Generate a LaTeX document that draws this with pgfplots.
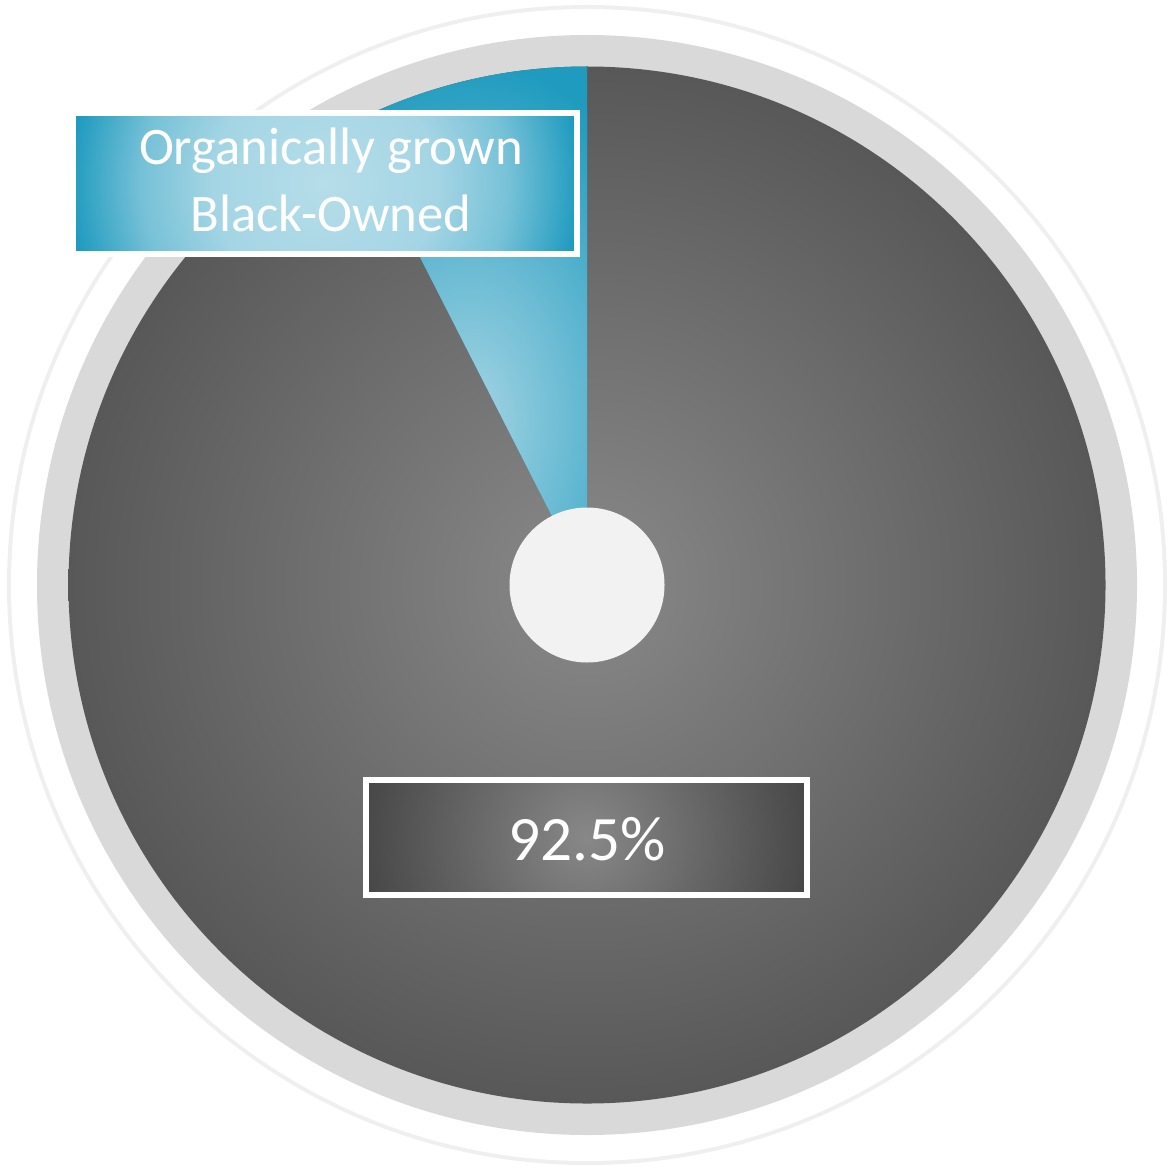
\documentclass[border=0pt]{standalone}
\usepackage{pgfplots}
\pgfplotsset{compat=1.18}
\usepackage{pgfplotstable}
\usepackage{fontspec}
\setmainfont{Carlito}

\definecolor{ringgray}{HTML}{D9D9D9}
\definecolor{rimgray}{HTML}{E4E4E4}
\definecolor{piedark}{HTML}{585858}
\definecolor{pielight}{HTML}{898989}
\definecolor{sliceblue}{HTML}{1F9BBF}
\definecolor{slicelight}{HTML}{A4D4E3}
\definecolor{boxlight}{HTML}{B6DDE9}
\definecolor{boxdark}{HTML}{484848}
\definecolor{boxmid}{HTML}{888888}
\definecolor{holegray}{HTML}{F2F2F2}

\pgfdeclareradialshading{bluebox}{\pgfpointorigin}{%
  color(0bp)=(boxlight);
  color(11bp)=(boxlight!88!sliceblue);
  color(18bp)=(boxlight!58!sliceblue);
  color(25bp)=(sliceblue);
  color(50bp)=(sliceblue)}

% share of each group (percent)
\pgfplotstableread[col sep=comma]{
group,value
Organically grown Black-Owned,7.5
Other,92.5
}\piedata

\begin{document}
\begin{tikzpicture}
\pgfplotstablegetelem{0}{value}\of\piedata
\pgfmathsetmacro\va{\pgfplotsretval}
\pgfmathsetmacro\angB{90+3.6*\va}
\begin{axis}[
  width=11.7cm, height=11.68cm,
  scale only axis,
  hide axis,
  clip=false,
  disabledatascaling,
  xmin=0, xmax=11.7,
  ymin=0, ymax=11.68,
  ]
  % keep the full page
  \path (axis cs:0,0) rectangle (axis cs:11.7,11.68);
  % rings
  \fill[rimgray!60] (axis cs:5.87,5.83) circle[radius=5.80cm];
  \fill[white] (axis cs:5.87,5.83) circle[radius=5.76cm];
  \fill[ringgray] (axis cs:5.87,5.83) circle[radius=5.50cm];
  % big slice
  \shade[inner color=pielight, outer color=piedark] (axis cs:5.87,5.83) circle[radius=5.185cm];
  % small slice
  \begin{scope}
    \clip (axis cs:5.87,5.83) -- ++(0,5.185cm) arc[start angle=90, end angle=\angB, radius=5.185cm] -- cycle;
    \fill[sliceblue] (axis cs:0,0) rectangle (axis cs:11.7,11.68);
    \shade[inner color=slicelight, outer color=sliceblue] (axis cs:4.70,7.48) ellipse[x radius=2.3cm, y radius=3.6cm];
  \end{scope}
  % hole
  \fill[holegray] (axis cs:5.87,5.83) circle[radius=0.775cm];

  % label of the small slice
  \begin{scope}
    \clip (axis cs:0.73,10.55) rectangle (axis cs:5.77,9.14);
    \fill[sliceblue] (axis cs:0.73,10.55) rectangle (axis cs:5.77,9.14);
    \shade[shading=bluebox] (axis cs:3.25,9.845) circle[radius=2.55cm];
  \end{scope}
  \draw[white, line width=1.5pt] (axis cs:0.73,10.55) rectangle (axis cs:5.77,9.14);
  \node[white, anchor=base, font=\fontsize{15}{18}\selectfont] at (axis cs:3.31,10.03) {Organically grown};
  \node[white, anchor=base, font=\fontsize{15}{18}\selectfont] at (axis cs:3.31,9.37) {Black-Owned};

  % label of the big slice
  \begin{scope}
    \clip (axis cs:3.66,3.88) rectangle (axis cs:8.07,2.73);
    \fill[boxdark] (axis cs:3.66,3.88) rectangle (axis cs:8.07,2.73);
    \shade[inner color=boxmid, outer color=boxdark] (axis cs:5.865,3.305) circle[radius=2.22cm];
  \end{scope}
  \draw[white, line width=1.5pt] (axis cs:3.66,3.88) rectangle (axis cs:8.07,2.73);
  \node[white, anchor=base, font=\fontsize{18}{22}\selectfont] at (axis cs:5.87,3.08) {92.5\%};
\end{axis}
\end{tikzpicture}
\end{document}
